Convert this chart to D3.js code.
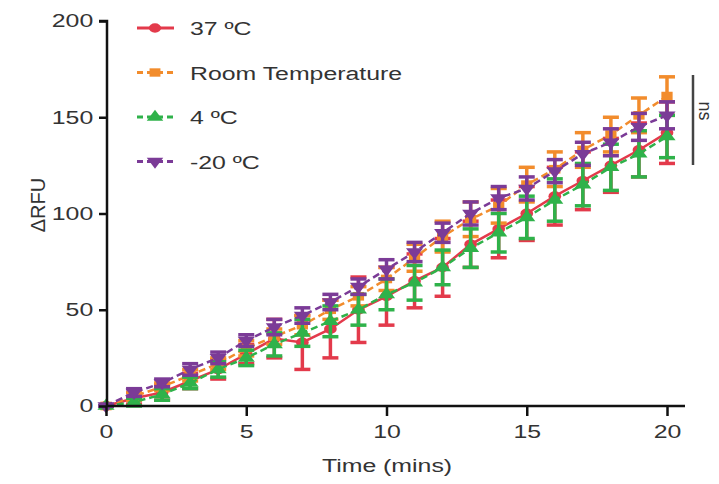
<!DOCTYPE html>
<html>
<head>
<meta charset="utf-8">
<script src="https://cdn.jsdelivr.net/npm/d3@7"></script>
<style>
  body { margin: 0; background: #fff; }
  svg { font-family: "Liberation Sans", Arial, sans-serif; }
</style>
</head>
<body>
<script>
// data (time in minutes, ΔRFU mean and error)
var times = [0,1,2,3,4,5,6,7,8,9,10,11,12,13,14,15,16,17,18,19,20];

var red37   = [0,4,7,13,19,27,35,33,40,50,57,65,72,84,92,100,109,117,125,133,142];
var red37Err = [0,3,4,4,5,5,10,14,15,17,15,14,15,12,15,14,15,15,14,14,16];

var roomT   = [0,5,10,16,22,30,36,42,50,57,66,77,88,97,104,115,123,133,141,151,161];
var roomTErr = [0,2,2,3,3,4,4,5,5,5,6,7,8,9,9,9,9,9,9,9,10];

var cold4   = [0,2,6,12,19,25,32,38,44,50,58,64,72,82,90,98,107,115,124,131,140];
var cold4Err = [0,2,3,3,4,4,6,7,8,8,8,9,9,10,10,11,11,11,12,12,11];

var frozen  = [0,7,12,19,25,34,41,47,54,62,71,80,90,100,108,113,122,131,137,145,151];
var frozenErr = [0,2,2,3,3,3,4,4,4,4,5,5,5,6,6,6,6,6,7,7,7];

var seriesNames = ["37 \u00BAC", "Room Temperature", "4 \u00BAC", "-20 \u00BAC"];
var xTicks = [0,5,10,15,20];
var yTicks = [0,50,100,150,200];

var width = 719, height = 484;
var sx = 1.38; // the picture is stretched sideways

var svg = d3.select("body").append("svg")
  .attr("width", width)
  .attr("height", height);

var x = d3.scaleLinear().domain([0,20]).range([106,667]);
var y = d3.scaleLinear().domain([0,200]).range([406,21]);

var series = [
  { name: seriesNames[0], vals: red37,  err: red37Err,  color: "#e33a4b", dash: null,  shape: d3.symbolCircle },
  { name: seriesNames[1], vals: roomT,  err: roomTErr,  color: "#f28c2c", dash: "7,4", shape: d3.symbolSquare },
  { name: seriesNames[2], vals: cold4,  err: cold4Err,  color: "#2fb24a", dash: "7,4", shape: d3.symbolTriangle },
  { name: seriesNames[3], vals: frozen, err: frozenErr, color: "#7b3b97", dash: "7,4", shape: d3.symbolTriangle, flip: true }
];

function markTransform(s, px, py){
  return "translate(" + px + "," + py + ") scale(1.3,1)" + (s.flip ? " rotate(180)" : "");
}

var line = d3.line()
  .x(function(d, i){ return x(times[i]); })
  .y(function(d){ return y(d); });

// series: lines, error bars, markers
series.forEach(function(s){
  var g = svg.append("g");

  g.append("path")
    .datum(s.vals)
    .attr("fill", "none")
    .attr("stroke", s.color)
    .attr("stroke-width", 2.5)
    .attr("stroke-dasharray", s.dash)
    .attr("d", line);

  var bars = g.selectAll(".err")
    .data(s.vals)
    .enter()
    .append("g")
    .attr("stroke", s.color)
    .attr("stroke-width", 3.5);

  bars.append("line")
    .attr("x1", function(d, i){ return x(times[i]); })
    .attr("x2", function(d, i){ return x(times[i]); })
    .attr("y1", function(d, i){ return y(d + s.err[i]); })
    .attr("y2", function(d, i){ return y(d - s.err[i]); });

  bars.append("line")
    .attr("x1", function(d, i){ return x(times[i]) - 8; })
    .attr("x2", function(d, i){ return x(times[i]) + 8; })
    .attr("y1", function(d, i){ return y(d + s.err[i]); })
    .attr("y2", function(d, i){ return y(d + s.err[i]); });

  bars.append("line")
    .attr("x1", function(d, i){ return x(times[i]) - 8; })
    .attr("x2", function(d, i){ return x(times[i]) + 8; })
    .attr("y1", function(d, i){ return y(d - s.err[i]); })
    .attr("y2", function(d, i){ return y(d - s.err[i]); });

  g.selectAll(".mark")
    .data(s.vals)
    .enter()
    .append("path")
    .attr("fill", s.color)
    .attr("d", d3.symbol().type(s.shape).size(75))
    .attr("transform", function(d, i){ return markTransform(s, x(times[i]), y(d)); });
});

// axes
var yAxis = svg.append("g")
  .attr("transform", "translate(107,0)")
  .call(d3.axisLeft(y).tickValues(yTicks).tickSize(8).tickPadding(2));

var xAxis = svg.append("g")
  .attr("transform", "translate(0,406)")
  .call(d3.axisBottom(x).tickValues(xTicks).tickSize(10).tickPadding(9).tickSizeOuter(0));

[yAxis, xAxis].forEach(function(a){
  a.selectAll("path").attr("stroke", "#111").attr("stroke-width", 2.5);
  a.selectAll("line").attr("stroke", "#111").attr("stroke-width", 2.5);
  a.selectAll("text")
    .attr("fill", "#333")
    .style("font-size", "18px")
    .attr("transform", "scale(" + sx + ",1)");
});
yAxis.select(".domain").attr("d", "M-8,21H0V406");
xAxis.select(".domain").attr("d", "M106,0H685");

svg.append("text")
  .attr("transform", "translate(387,472) scale(" + sx + ",1)")
  .attr("text-anchor", "middle")
  .attr("fill", "#333")
  .style("font-size", "18px")
  .text("Time (mins)");

svg.append("text")
  .attr("transform", "translate(45,205) rotate(-90)")
  .attr("text-anchor", "middle")
  .attr("fill", "#333")
  .style("font-size", "20px")
  .text("\u0394RFU");

// legend
var legend = svg.append("g");
series.forEach(function(s, i){
  var ly = 28 + i * 44.5;
  legend.append("line")
    .attr("x1", 137).attr("x2", 174)
    .attr("y1", ly).attr("y2", ly)
    .attr("stroke", s.color)
    .attr("stroke-width", 3)
    .attr("stroke-dasharray", s.dash ? "6,4" : null);
  legend.append("path")
    .attr("fill", s.color)
    .attr("d", d3.symbol().type(s.shape).size(70))
    .attr("transform", markTransform(s, 155, ly));
  legend.append("text")
    .attr("transform", "translate(190," + (ly + 7) + ") scale(" + sx + ",1)")
    .attr("fill", "#333")
    .style("font-size", "18px")
    .text(s.name);
});

// significance bracket
svg.append("line")
  .attr("x1", 693).attr("x2", 693)
  .attr("y1", 75).attr("y2", 165)
  .attr("stroke", "#444").attr("stroke-width", 2.5);
svg.append("text")
  .attr("transform", "translate(699,111) rotate(90)")
  .attr("text-anchor", "middle")
  .attr("fill", "#333")
  .style("font-size", "18px")
  .text("ns");
</script>
</body>
</html>
